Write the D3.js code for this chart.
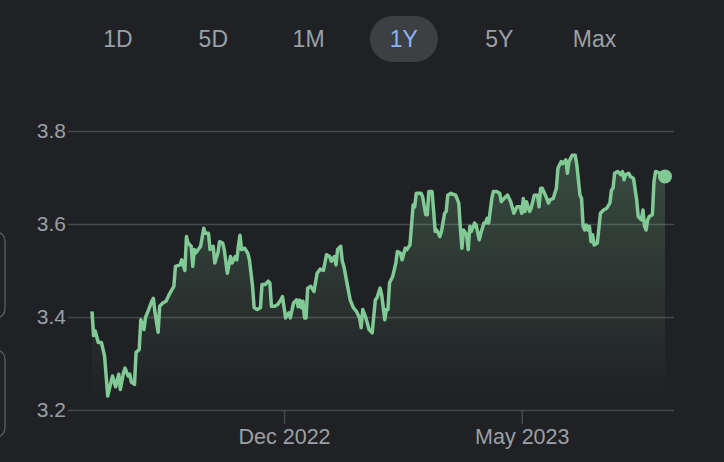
<!DOCTYPE html>
<html>
<head>
<meta charset="utf-8">
<script src="https://cdn.jsdelivr.net/npm/d3@7"></script>
<style>
  html, body { margin: 0; padding: 0; background: #202124; }
  svg { display: block; font-family: Arial, "Liberation Sans", sans-serif; }
</style>
</head>
<body>
<div id="chart"></div>
<script>
// range buttons across the top
const ranges = ["1D", "5D", "1M", "1Y", "5Y", "Max"];
const activeRange = "1Y";

// y ticks and x ticks
const yTicks = [3.2, 3.4, 3.6, 3.8];
const xTicks = ["2022-12-01", "2023-05-01"];

// the series
const dates = [
  "2022-08-01","2022-08-02","2022-08-03","2022-08-05","2022-08-07","2022-08-09","2022-08-11","2022-08-12","2022-08-14","2022-08-16",
  "2022-08-18","2022-08-19","2022-08-21","2022-08-22","2022-08-24","2022-08-25","2022-08-26","2022-08-28","2022-08-29","2022-08-31",
  "2022-09-01","2022-09-03","2022-09-04","2022-09-06","2022-09-08","2022-09-09","2022-09-10","2022-09-12","2022-09-13","2022-09-15",
  "2022-09-17","2022-09-19","2022-09-22","2022-09-23","2022-09-26","2022-09-27","2022-09-29","2022-09-30","2022-10-01","2022-10-03",
  "2022-10-04","2022-10-05","2022-10-06","2022-10-09","2022-10-11","2022-10-12","2022-10-14","2022-10-15","2022-10-17","2022-10-18",
  "2022-10-20","2022-10-21","2022-10-23","2022-10-24","2022-10-26","2022-10-28","2022-10-29","2022-10-31","2022-11-01","2022-11-02",
  "2022-11-03","2022-11-04","2022-11-06","2022-11-08","2022-11-09","2022-11-11","2022-11-12","2022-11-14","2022-11-16","2022-11-17",
  "2022-11-19","2022-11-21","2022-11-22","2022-11-23","2022-11-25","2022-11-27","2022-11-29","2022-11-30","2022-12-02","2022-12-04",
  "2022-12-05","2022-12-07","2022-12-09","2022-12-10","2022-12-11","2022-12-12","2022-12-13","2022-12-14","2022-12-15","2022-12-16",
  "2022-12-18","2022-12-20","2022-12-22","2022-12-24","2022-12-26","2022-12-28","2022-12-30","2022-12-31","2023-01-02","2023-01-03",
  "2023-01-04","2023-01-06","2023-01-07","2023-01-08","2023-01-10","2023-01-12","2023-01-14","2023-01-16","2023-01-18","2023-01-19",
  "2023-01-20","2023-01-22","2023-01-24","2023-01-26","2023-01-28","2023-01-29","2023-01-31","2023-02-01","2023-02-03","2023-02-04",
  "2023-02-05","2023-02-06","2023-02-08","2023-02-10","2023-02-11","2023-02-13","2023-02-14","2023-02-16","2023-02-17","2023-02-19",
  "2023-02-21","2023-02-22","2023-02-23","2023-02-26","2023-02-27","2023-03-01","2023-03-02","2023-03-03","2023-03-05","2023-03-06",
  "2023-03-07","2023-03-08","2023-03-10","2023-03-11","2023-03-13","2023-03-14","2023-03-15","2023-03-17","2023-03-20","2023-03-22",
  "2023-03-23","2023-03-24","2023-03-25","2023-03-27","2023-03-28","2023-03-29","2023-03-30","2023-04-01","2023-04-02","2023-04-04",
  "2023-04-05","2023-04-07","2023-04-08","2023-04-09","2023-04-10","2023-04-12","2023-04-13","2023-04-15","2023-04-17","2023-04-18",
  "2023-04-19","2023-04-21","2023-04-22","2023-04-24","2023-04-26","2023-04-28","2023-04-30","2023-05-01","2023-05-02","2023-05-03",
  "2023-05-04","2023-05-06","2023-05-07","2023-05-09","2023-05-11","2023-05-12","2023-05-13","2023-05-14","2023-05-16","2023-05-18",
  "2023-05-19","2023-05-21","2023-05-23","2023-05-24","2023-05-26","2023-05-27","2023-05-29","2023-05-30","2023-05-31","2023-06-02",
  "2023-06-04","2023-06-05","2023-06-07","2023-06-08","2023-06-09","2023-06-10","2023-06-11","2023-06-12","2023-06-13","2023-06-14",
  "2023-06-15","2023-06-16","2023-06-18","2023-06-20","2023-06-22","2023-06-24","2023-06-26","2023-06-27","2023-06-28","2023-06-29",
  "2023-07-01","2023-07-03","2023-07-04","2023-07-05","2023-07-06","2023-07-08","2023-07-09","2023-07-11","2023-07-13","2023-07-14",
  "2023-07-16","2023-07-17","2023-07-18","2023-07-19","2023-07-20","2023-07-21","2023-07-23","2023-07-24","2023-07-25","2023-07-28",
  "2023-07-31"
];
const values = [
  3.412,3.36,3.37,3.345,3.345,3.316,3.23,3.245,3.273,3.25,
  3.277,3.244,3.28,3.29,3.273,3.277,3.26,3.255,3.324,3.33,
  3.394,3.373,3.399,3.416,3.434,3.44,3.41,3.367,3.423,3.43,
  3.434,3.448,3.466,3.509,3.512,3.523,3.50,3.573,3.559,3.552,
  3.509,3.545,3.538,3.552,3.591,3.58,3.58,3.545,3.552,3.516,
  3.538,3.562,3.559,3.545,3.494,3.53,3.516,3.53,3.523,3.552,
  3.576,3.545,3.548,3.537,3.523,3.466,3.42,3.416,3.42,3.47,
  3.47,3.477,3.473,3.423,3.423,3.427,3.437,3.444,3.398,3.409,
  3.398,3.43,3.437,3.422,3.436,3.42,3.434,3.398,3.398,3.462,
  3.466,3.455,3.494,3.503,3.50,3.534,3.53,3.52,3.53,3.512,
  3.545,3.552,3.52,3.509,3.473,3.437,3.42,3.412,3.398,3.377,
  3.416,3.398,3.373,3.366,3.437,3.441,3.462,3.448,3.394,3.416,
  3.416,3.473,3.487,3.516,3.541,3.537,3.523,3.548,3.545,3.555,
  3.641,3.637,3.666,3.666,3.659,3.62,3.62,3.67,3.67,3.63,
  3.584,3.587,3.573,3.584,3.623,3.627,3.662,3.666,3.662,3.645,
  3.591,3.548,3.587,3.577,3.545,3.595,3.584,3.602,3.598,3.566,
  3.58,3.602,3.602,3.612,3.602,3.655,3.67,3.67,3.666,3.648,
  3.652,3.659,3.662,3.648,3.623,3.637,3.637,3.623,3.655,3.627,
  3.648,3.627,3.634,3.662,3.662,3.637,3.677,3.677,3.662,3.645,
  3.652,3.655,3.677,3.72,3.734,3.73,3.738,3.709,3.734,3.748,
  3.748,3.727,3.662,3.655,3.595,3.587,3.598,3.587,3.595,3.562,
  3.577,3.555,3.559,3.623,3.63,3.634,3.645,3.673,3.677,3.709,
  3.713,3.706,3.713,3.695,3.706,3.709,3.702,3.698,3.652,3.616,
  3.609,3.63,3.595,3.587,3.609,3.616,3.62,3.691,3.713,3.709,
  3.702
];

const width = 724,
      height = 462;

const parse = d3.timeParse("%Y-%m-%d");
const data = dates.map((d, i) => ({ date: parse(d), value: values[i] }));

const svg = d3.select("#chart")
  .append("svg")
    .attr("width", width)
    .attr("height", height);

svg.append("rect")
  .attr("width", width)
  .attr("height", height)
  .attr("fill", "#202124");

// cut-off controls peeking in at the left edge
svg.selectAll(".edgebox")
  .data([[232, 318], [350, 437]])
  .join("rect")
    .attr("class", "edgebox")
    .attr("x", -40)
    .attr("y", d => d[0])
    .attr("width", 45)
    .attr("height", d => d[1] - d[0])
    .attr("rx", 9)
    .attr("fill", "none")
    .attr("stroke", "#5f6368")
    .attr("stroke-width", 1.2);

// range buttons
const bx = d3.scalePoint()
  .domain(ranges)
  .range([118, 594.5]);

svg.append("rect")
  .attr("x", bx(activeRange) - 34)
  .attr("y", 16)
  .attr("width", 68)
  .attr("height", 46)
  .attr("rx", 23)
  .attr("fill", "#3c4043");

svg.selectAll(".range")
  .data(ranges)
  .join("text")
    .attr("class", "range")
    .attr("x", d => bx(d))
    .attr("y", 47)
    .attr("text-anchor", "middle")
    .style("font-size", "23px")
    .attr("fill", d => d === activeRange ? "#8ab4f8" : "#9aa0a6")
    .text(d => d);

// scales
const x = d3.scaleTime()
  .domain(d3.extent(data, d => d.date))
  .range([92, 665]);

const y = d3.scaleLinear()
  .domain([3.2, 3.8])
  .range([410, 131]);

// gridlines + y labels
const yAxis = svg.append("g")
  .attr("transform", "translate(68,0)")
  .call(d3.axisLeft(y).tickValues(yTicks).tickFormat(d3.format(".1f")).tickSize(-606).tickPadding(2));
yAxis.select(".domain").remove();
yAxis.selectAll("line").attr("stroke", "#46494d").attr("stroke-width", 1.5);
yAxis.selectAll("text")
  .attr("fill", "#9aa0a6")
  .style("font-size", "21px")
  .style("font-family", "Arial, 'Liberation Sans', sans-serif");

// x ticks
const xAxis = svg.append("g")
  .attr("transform", "translate(0,410)")
  .call(d3.axisBottom(x).tickValues(xTicks.map(parse)).tickFormat(d3.timeFormat("%b %Y")).tickSize(14).tickPadding(5));
xAxis.select(".domain").remove();
xAxis.selectAll("line").attr("stroke", "#46494d").attr("stroke-width", 1.5);
xAxis.selectAll("text")
  .attr("fill", "#9aa0a6")
  .style("font-size", "21.5px")
  .style("font-family", "Arial, 'Liberation Sans', sans-serif");

// gradient under the line
const grad = svg.append("defs").append("linearGradient")
  .attr("id", "fade")
  .attr("gradientUnits", "userSpaceOnUse")
  .attr("x1", 0).attr("x2", 0)
  .attr("y1", 131).attr("y2", 400);
grad.append("stop").attr("offset", "0%").attr("stop-color", "#81c995").attr("stop-opacity", 0.28);
grad.append("stop").attr("offset", "100%").attr("stop-color", "#81c995").attr("stop-opacity", 0);

svg.append("path")
  .datum(data)
  .attr("fill", "url(#fade)")
  .attr("d", d3.area()
    .x(d => x(d.date))
    .y0(y(3.2))
    .y1(d => y(d.value)));

svg.append("path")
  .datum(data)
  .attr("fill", "none")
  .attr("stroke", "#81c995")
  .attr("stroke-width", 3.5)
  .attr("stroke-linejoin", "round")
  .attr("d", d3.line()
    .x(d => x(d.date))
    .y(d => y(d.value)));

// last point marker
const last = data[data.length - 1];
svg.append("circle")
  .attr("cx", x(last.date))
  .attr("cy", y(last.value))
  .attr("r", 7)
  .attr("fill", "#81c995");
</script>
</body>
</html>
